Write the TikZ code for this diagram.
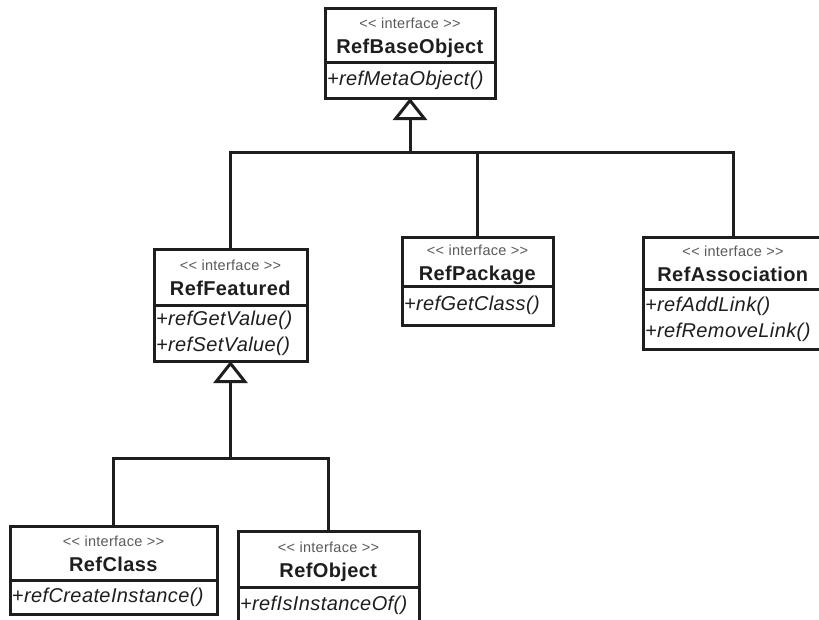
\documentclass[tikz,border=0pt]{standalone}
\usepackage{fontspec}
\usepackage{xcolor}
\usetikzlibrary{arrows.meta, positioning}
\newfontfamily\umlfont{Liberation Sans}[LetterSpace=2]
\definecolor{UML_Line}{HTML}{1E1E1E}
\definecolor{UML_Grey}{HTML}{5A5A5A}
\tikzset{
  classhead/.style={draw=UML_Line, line width=3pt, fill=white, outer sep=0pt, inner sep=0pt, align=center, text=UML_Line, font=\umlfont\fontsize{20}{25}\selectfont},
  classbody/.style={draw=UML_Line, line width=3pt, fill=white, outer sep=0pt, inner xsep=2pt, inner ysep=0pt, align=left, text=UML_Line, font=\umlfont\itshape\fontsize{20}{26}\selectfont},
  inherit/.style={-{Triangle[open, length=22pt, width=34pt]}, line width=3pt, UML_Line},
  wire/.style={line width=3pt, UML_Line}
}
\newcommand{\stereo}{{\fontsize{14.5}{16}\selectfont\color{UML_Grey}\rule{0pt}{17pt}<< interface >>}}
\newcommand{\cname}[1]{\textbf{#1}\rule[-5pt]{0pt}{5pt}}

\begin{document}
\begin{tikzpicture}[x=1pt, y=-1pt]
    \useasboundingbox (0,0) rectangle (819,619);
    \fill[white] (0,0) rectangle (819,619);
    \clip (0,0) rectangle (819,619);

    % Root interface
    \node[classhead, minimum width=170pt, minimum height=54pt] (baseHead) at (410,35) {\stereo\\\cname{RefBaseObject}};
    \node[classbody, below=0pt of baseHead, text width=166pt, minimum height=36pt] (baseBody) {+refMetaObject()};

    % Second level
    \node[classhead, minimum width=153pt, minimum height=56pt] (featHead) at (230.5,277) {\stereo\\\cname{RefFeatured}};
    \node[classbody, below=0pt of featHead, text width=149pt, minimum height=56pt] (featBody) {+refGetValue()\\+refSetValue()};
    \node[classhead, minimum width=151pt, minimum height=49pt] (pkgHead) at (477.5,261.5) {\stereo\\\cname{RefPackage}};
    \node[classbody, below=0pt of pkgHead, text width=147pt, minimum height=39pt] (pkgBody) {+refGetClass()};
    \node[classhead, minimum width=180pt, minimum height=52pt] (assocHead) at (733,263) {\stereo\\\cname{RefAssociation}};
    \node[classbody, below=0pt of assocHead, text width=176pt, minimum height=60pt] (assocBody) {+refAddLink()\\+refRemoveLink()};

    % Third level
    \node[classhead, minimum width=207pt, minimum height=54pt] (classHead) at (113.5,553) {\stereo\\\cname{RefClass}};
    \node[classbody, below=0pt of classHead, text width=203pt, minimum height=34pt] (classBody) {+refCreateInstance()};
    \node[classhead, minimum width=181pt, minimum height=56pt] (objHead) at (328.5,559) {\stereo\\\cname{RefObject}};
    \node[classbody, below=0pt of objHead, text width=177pt, minimum height=36pt] (objBody) {+refIsInstanceOf()};

    % Generalisation lines
    \coordinate (topBus) at (410,152);
    \draw[inherit] (topBus) -- (baseBody.south);
    \draw[wire] (featHead.north) |- (topBus);
    \draw[wire] (pkgHead.north) |- (topBus);
    \draw[wire] (assocHead.north) |- (topBus);

    \coordinate (midBus) at (230.5,458);
    \draw[inherit] (midBus) -- (featBody.south);
    \draw[wire] (classHead.north) |- (midBus);
    \draw[wire] (objHead.north) |- (midBus);
\end{tikzpicture}
\end{document}
